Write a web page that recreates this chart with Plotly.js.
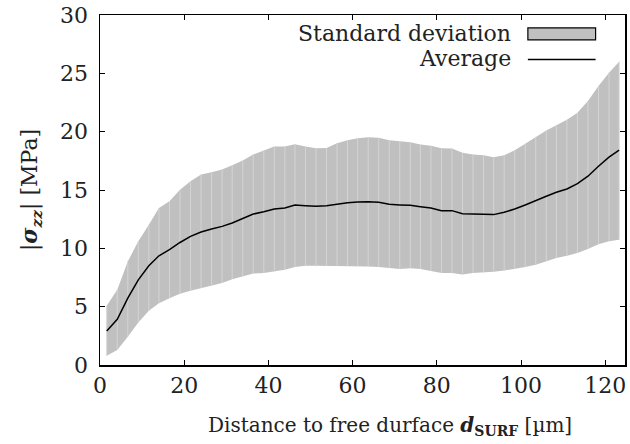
<!DOCTYPE html>
<html>
<head>
<meta charset="utf-8">
<script src="https://cdn.plot.ly/plotly-3.0.1.min.js"></script>
<style>html,body{margin:0;padding:0;background:#fff;}#chart{width:630px;height:444px;}</style>
</head>
<body>
<div id="chart"></div>
<script>
var distance = [1.6, 4.1, 6.6, 9.1, 11.6, 14.0, 16.5, 19.0, 21.5, 24.0, 26.5, 29.0, 31.4, 33.9, 36.4, 38.9, 41.4, 43.9, 46.3, 48.8, 51.3, 53.8, 56.3, 58.8, 61.2, 63.7, 66.2, 68.7, 71.2, 73.7, 76.1, 78.6, 81.1, 83.6, 86.1, 88.6, 91.1, 93.5, 96.0, 98.5, 101.0, 103.5, 106.0, 108.4, 110.9, 113.4, 115.9, 118.4, 120.9, 123.3];
var average = [2.92, 3.92, 5.73, 7.3, 8.5, 9.36, 9.88, 10.5, 11.02, 11.4, 11.66, 11.88, 12.17, 12.54, 12.94, 13.14, 13.37, 13.46, 13.72, 13.66, 13.6, 13.66, 13.8, 13.9, 13.97, 14.0, 13.94, 13.77, 13.72, 13.69, 13.57, 13.46, 13.23, 13.23, 12.97, 12.94, 12.94, 12.89, 13.09, 13.37, 13.72, 14.06, 14.46, 14.8, 15.09, 15.55, 16.18, 17.04, 17.81, 18.41];
var upper = [5.07, 6.44, 8.88, 10.6, 12.03, 13.46, 14.03, 15.03, 15.75, 16.32, 16.52, 16.75, 17.12, 17.53, 18.04, 18.41, 18.73, 18.73, 18.93, 18.73, 18.58, 18.6, 19.0, 19.27, 19.44, 19.53, 19.47, 19.27, 19.2, 19.1, 18.9, 18.79, 18.58, 18.55, 18.19, 18.04, 17.98, 17.81, 17.98, 18.41, 18.96, 19.56, 20.1, 20.56, 21.02, 21.62, 22.62, 23.91, 25.06, 26.0];
var lower = [0.8, 1.29, 2.43, 3.64, 4.64, 5.3, 5.73, 6.1, 6.36, 6.59, 6.79, 7.02, 7.36, 7.59, 7.84, 7.88, 7.99, 8.16, 8.39, 8.5, 8.5, 8.5, 8.5, 8.48, 8.45, 8.45, 8.39, 8.3, 8.22, 8.3, 8.22, 8.05, 7.88, 7.88, 7.76, 7.88, 7.93, 7.99, 8.1, 8.22, 8.39, 8.59, 8.88, 9.17, 9.36, 9.6, 9.94, 10.34, 10.6, 10.74];
var xTicks = [0, 20, 40, 60, 80, 100, 120];
var yTicks = [0, 5, 10, 15, 20, 25, 30];
var legendLabels = ["Standard deviation", "Average"];
var xTitle = "Distance to free durface <b><i>d</i></b><sub><b>SURF</b></sub> [µm]";
var yTitle = "|<b><i>σ</i></b><sub><b><i>zz</i></b></sub>| [MPa]";

var FONT = "'DejaVu Serif'";
var FS = 22;
var TXT = "#222";

// vertical stripes inside the band, one per sample
var sx = [], sy = [];
for (var i = 0; i < distance.length; i++) {
  sx.push(distance[i], distance[i], null);
  sy.push(lower[i], upper[i], null);
}

var traces = [
  {x: distance, y: lower, mode: "lines", line: {width: 0, color: "#c0c0c0"}, showlegend: false, hoverinfo: "skip"},
  {x: distance, y: upper, mode: "lines", line: {width: 0, color: "#c0c0c0"}, fill: "tonexty", fillcolor: "#c0c0c0", showlegend: false, hoverinfo: "skip"},
  {x: sx, y: sy, mode: "lines", line: {width: 1, color: "#d4d4d4"}, showlegend: false, hoverinfo: "skip", connectgaps: false},
  {x: distance, y: average, mode: "lines", line: {width: 1.5, color: "#000"}, showlegend: false}
];

var axisCommon = {
  showgrid: false, zeroline: false, showline: true, linecolor: "#000", linewidth: 1.5,
  mirror: "ticks", ticks: "inside", ticklen: 5, tickwidth: 1, tickcolor: "#000",
  tickfont: {family: FONT, size: FS, color: TXT}
};

var layout = {
  width: 630, height: 444,
  margin: {l: 100, r: 5, t: 15, b: 79},
  paper_bgcolor: "#fff", plot_bgcolor: "#fff",
  font: {family: FONT, size: FS, color: TXT},
  showlegend: false,
  xaxis: Object.assign({}, axisCommon, {
    range: [0, 124.7], tickvals: xTicks, ticktext: xTicks.map(String)
  }),
  yaxis: Object.assign({}, axisCommon, {
    range: [0, 30], tickvals: yTicks, ticktext: yTicks.map(String), ticklabelstandoff: 6,
    title: {text: yTitle, font: {family: FONT, size: FS, color: TXT}, standoff: 16}
  }),
  annotations: [
    {xref: "paper", yref: "paper", x: 0.552, y: -0.174, xanchor: "center", yanchor: "middle", text: xTitle, showarrow: false, font: {family: FONT, size: 20, color: TXT}},
    {xref: "paper", yref: "paper", x: 0.786, y: 0.946, xanchor: "right", yanchor: "middle", text: legendLabels[0], showarrow: false, font: {family: FONT, size: FS, color: TXT}},
    {xref: "paper", yref: "paper", x: 0.786, y: 0.877, xanchor: "right", yanchor: "middle", text: legendLabels[1], showarrow: false, font: {family: FONT, size: FS, color: TXT}}
  ],
  shapes: [
    {type: "rect", xref: "paper", yref: "paper", x0: 0.815, x1: 0.944, y0: 0.929, y1: 0.963, fillcolor: "#c0c0c0", line: {color: "#000", width: 1.2}},
    {type: "line", xref: "paper", yref: "paper", x0: 0.815, x1: 0.944, y0: 0.873, y1: 0.873, line: {color: "#000", width: 1.5}}
  ]
};

Plotly.newPlot("chart", traces, layout, {staticPlot: true, displayModeBar: false});
</script>
</body>
</html>
